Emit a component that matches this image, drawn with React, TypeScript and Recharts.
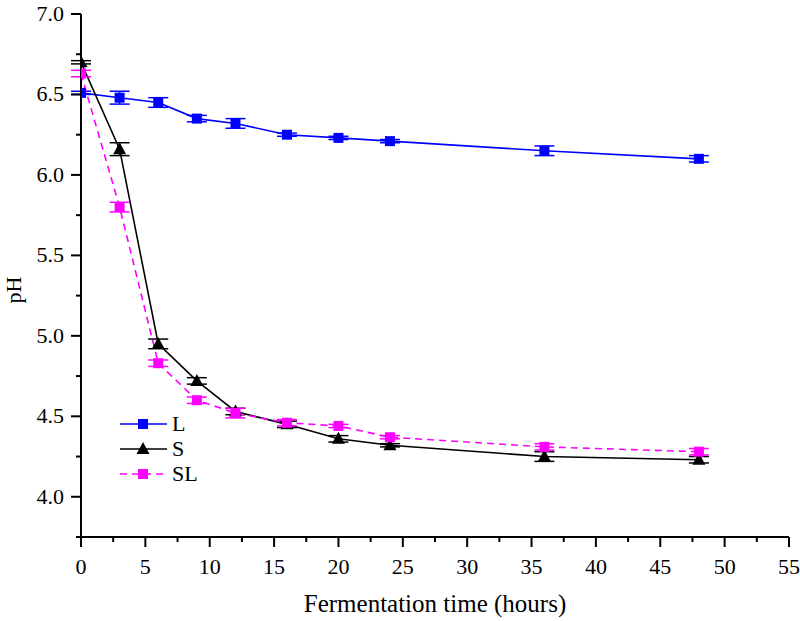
import {
  ComposedChart,
  Line,
  XAxis,
  YAxis,
  ErrorBar,
} from "recharts";

const hours = [0, 3, 6, 9, 12, 16, 20, 24, 36, 48];
const phL = [6.51, 6.48, 6.45, 6.35, 6.32, 6.25, 6.23, 6.21, 6.15, 6.1];
const errL = [0.01, 0.04, 0.03, 0.02, 0.03, 0.01, 0.01, 0.01, 0.03, 0.02];
const phS = [6.7, 6.16, 4.95, 4.72, 4.53, 4.45, 4.36, 4.32, 4.25, 4.23];
const errS = [0.01, 0.04, 0.03, 0.02, 0.02, 0.02, 0.02, 0.01, 0.03, 0.02];
const phSL = [6.63, 5.8, 4.83, 4.6, 4.52, 4.46, 4.44, 4.37, 4.31, 4.28];
const errSL = [0.02, 0.03, 0.02, 0.02, 0.03, 0.02, 0.01, 0.01, 0.02, 0.02];

const xTicks = [0, 2.5, 5, 7.5, 10, 12.5, 15, 17.5, 20, 22.5, 25, 27.5, 30, 32.5, 35, 37.5, 40, 42.5, 45, 47.5, 50, 52.5, 55];
const yTicks = [3.75, 4.0, 4.25, 4.5, 4.75, 5.0, 5.25, 5.5, 5.75, 6.0, 6.25, 6.5, 6.75, 7.0];
const seriesNames = ["L", "S", "SL"];

const BLUE = "#0000ff";
const BLACK = "#000000";
const MAGENTA = "#ff00ff";
const FONT = "'Liberation Serif', 'Times New Roman', serif";
const txt = { fontFamily: FONT, fontSize: 22, fill: BLACK };

const data = hours.map((h, i) => ({
  h,
  L: phL[i],
  eL: errL[i],
  S: phS[i],
  eS: errS[i],
  SL: phSL[i],
  eSL: errSL[i],
}));

const Square = (color: string) => (props: any) => {
  const { cx, cy } = props;
  if (cx == null || cy == null) return null;
  return <rect x={cx - 5} y={cy - 5} width={10} height={10} fill={color} />;
};

const Triangle = (props: any) => {
  const { cx, cy } = props;
  if (cx == null || cy == null) return null;
  return <polygon points={`${cx},${cy - 7} ${cx - 6.5},${cy + 5} ${cx + 6.5},${cy + 5}`} fill={BLACK} />;
};

const XTick = (props: any) => {
  const { x, y, payload } = props;
  const v = payload.value;
  const major = Math.abs(v / 5 - Math.round(v / 5)) < 1e-6;
  return (
    <g>
      <line x1={x} x2={x} y1={y} y2={y + (major ? 10 : 5)} stroke={BLACK} strokeWidth={2} />
      {major && (
        <text x={x} y={y + 37} textAnchor="middle" style={txt}>
          {v}
        </text>
      )}
    </g>
  );
};

const YTick = (props: any) => {
  const { x, y, payload } = props;
  const v = payload.value;
  const major = Math.abs(v * 2 - Math.round(v * 2)) < 1e-6;
  return (
    <g>
      <line x1={x} x2={x - (major ? 10 : 5)} y1={y} y2={y} stroke={BLACK} strokeWidth={2} />
      {major && (
        <text x={x - 17} y={y + 7} textAnchor="end" style={txt}>
          {v.toFixed(1)}
        </text>
      )}
    </g>
  );
};

const legendStyles = [
  { color: BLUE, dash: undefined, marker: "square" },
  { color: BLACK, dash: undefined, marker: "triangle" },
  { color: MAGENTA, dash: "7 5", marker: "square" },
];

export default function App() {
  return (
    <div style={{ position: "absolute", left: 0, top: 0, width: 800, height: 621, background: "#fff" }}>
      <ComposedChart width={800} height={621} data={data} margin={{ top: 14, right: 11, bottom: 0, left: 0 }}>
        <XAxis
          dataKey="h"
          type="number"
          domain={[0, 55]}
          ticks={xTicks}
          interval={0}
          height={84}
          tickSize={0}
          tickMargin={0}
          tickLine={false}
          tick={<XTick />}
          axisLine={{ stroke: BLACK, strokeWidth: 2 }}
          allowDataOverflow
        />
        <YAxis
          type="number"
          domain={[3.75, 7]}
          ticks={yTicks}
          interval={0}
          width={81}
          tickSize={0}
          tickMargin={0}
          tickLine={false}
          tick={<YTick />}
          axisLine={{ stroke: BLACK, strokeWidth: 2 }}
          allowDataOverflow
        />
        <Line
          type="linear"
          dataKey="L"
          stroke={BLUE}
          strokeWidth={1.6}
          dot={Square(BLUE)}
          activeDot={false}
          isAnimationActive={false}
        >
          <ErrorBar dataKey="eL" width={10} stroke={BLUE} strokeWidth={1.5} direction="y" />
        </Line>
        <Line
          type="linear"
          dataKey="S"
          stroke={BLACK}
          strokeWidth={1.6}
          dot={Triangle}
          activeDot={false}
          isAnimationActive={false}
        >
          <ErrorBar dataKey="eS" width={10} stroke={BLACK} strokeWidth={1.5} direction="y" />
        </Line>
        <Line
          type="linear"
          dataKey="SL"
          stroke={MAGENTA}
          strokeWidth={1.6}
          strokeDasharray="7 5"
          dot={Square(MAGENTA)}
          activeDot={false}
          isAnimationActive={false}
        >
          <ErrorBar dataKey="eSL" width={10} stroke={MAGENTA} strokeWidth={1.5} direction="y" />
        </Line>
        <g>
          {seriesNames.map((name, i) => {
            const st = legendStyles[i];
            const cy = 424 + i * 25;
            return (
              <g key={name}>
                <line x1={120} x2={167} y1={cy} y2={cy} stroke={st.color} strokeWidth={1.6} strokeDasharray={st.dash} />
                {st.marker === "square" ? (
                  <rect x={138} y={cy - 5} width={10} height={10} fill={st.color} />
                ) : (
                  <polygon points={`143,${cy - 7} 136.5,${cy + 5} 149.5,${cy + 5}`} fill={BLACK} />
                )}
                <text x={172} y={cy + 7} style={txt}>
                  {name}
                </text>
              </g>
            );
          })}
        </g>
        <text x={435} y={612} textAnchor="middle" style={{ ...txt, fontSize: 25 }}>
          Fermentation time (hours)
        </text>
        <text x={21} y={290} textAnchor="middle" style={{ ...txt, fontSize: 22 }} transform="rotate(-90 21 290)">
          pH
        </text>
      </ComposedChart>
    </div>
  );
}
